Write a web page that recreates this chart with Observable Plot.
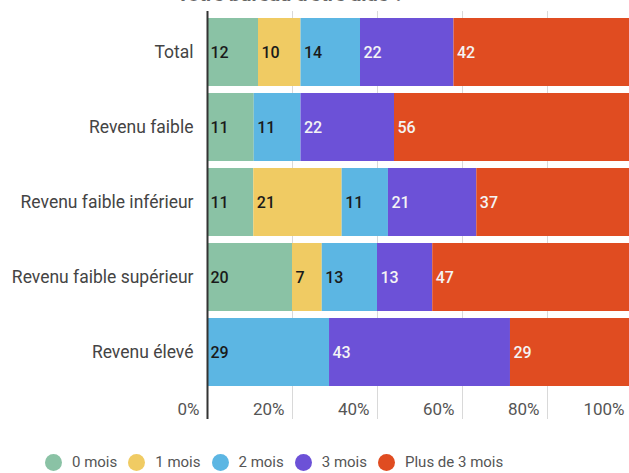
<!DOCTYPE html>
<html>
<head>
<meta charset="utf-8">
<script src="https://cdn.jsdelivr.net/npm/d3@7"></script>
<script src="https://cdn.jsdelivr.net/npm/@observablehq/plot@0.6"></script>
<style>
  html, body { margin: 0; padding: 0; background: #fff; overflow: hidden; }
  body { width: 629px; height: 473px; position: relative; font-family: Roboto, "Noto Sans", sans-serif; }
  #title { position: absolute; left: 178px; top: -18px; font-size: 20px; line-height: 24px; font-weight: bold; color: #666; white-space: nowrap; }
  #chart { position: absolute; left: 0; top: 0; width: 640px; }
  #chart svg { max-width: none !important; }
  #legend { position: absolute; left: 45px; top: 453px; display: flex; align-items: center; font-size: 15px; color: #555; white-space: nowrap; }
  .item { display: flex; align-items: center; margin-right: 11px; }
  .dot { width: 17px; height: 17px; border-radius: 50%; margin-right: 10px; }
</style>
</head>
<body>
<div id="title">votre bureau d'être aidé ?</div>
<div id="chart"></div>
<div id="legend"></div>
<script>
const categories = ["Total", "Revenu faible", "Revenu faible inférieur", "Revenu faible supérieur", "Revenu élevé"];
const series = ["0 mois", "1 mois", "2 mois", "3 mois", "Plus de 3 mois"];
const colors = ["#8AC2A5", "#F0CB63", "#5CB6E3", "#6C51D7", "#E04C21"];
const mois0 = [12, 11, 11, 20, 0];
const mois1 = [10, 0, 21, 7, 0];
const mois2 = [14, 11, 11, 13, 29];
const mois3 = [22, 22, 21, 13, 43];
const plus3 = [42, 56, 37, 47, 29];
const xTicks = [0, 0.2, 0.4, 0.6, 0.8, 1];

const seriesValues = [mois0, mois1, mois2, mois3, plus3];
const data = [];
categories.forEach((c, i) => {
  series.forEach((s, j) => {
    data.push({cat: c, series: s, value: seriesValues[j][i]});
  });
});
const darkLabel = new Set(["0 mois", "1 mois", "2 mois"]);

const stackOpts = {x: "value", y: "cat", z: "series", order: series, offset: "normalize"};

const chart = Plot.plot({
  width: 640,
  height: 440,
  marginTop: 11,
  marginBottom: 21,
  marginLeft: 207,
  marginRight: 8,
  style: {fontFamily: "Roboto, sans-serif", fontSize: "17px", color: "#444", background: "transparent", maxWidth: "none"},
  x: {domain: [0, 1], ticks: xTicks, tickFormat: d3.format(".0%"), label: null},
  y: {domain: categories, paddingInner: 0.1, paddingOuter: 0.259, align: 0.18, label: null},
  color: {domain: series, range: colors},
  marks: [
    Plot.gridX(xTicks, {stroke: "#d9d9d9", strokeOpacity: 1}),
    Plot.barX(data, Plot.stackX({...stackOpts, fill: "series"})),
    Plot.text(data, Plot.stackX1({...stackOpts,
      text: d => (d.value > 0 && darkLabel.has(d.series)) ? String(d.value) : "",
      textAnchor: "start", dx: 3, fill: "#1a1a1a", fontWeight: 500, fontSize: 16})),
    Plot.text(data, Plot.stackX1({...stackOpts,
      text: d => (d.value > 0 && !darkLabel.has(d.series)) ? String(d.value) : "",
      textAnchor: "start", dx: 3, fill: "#f4f4f4", fontWeight: 500, fontSize: 16})),
    Plot.ruleX([0], {stroke: "#333", strokeWidth: 2}),
    Plot.axisX(xTicks, {anchor: "bottom", tickSize: 0, tickPadding: 0, textAnchor: "end", dx: -8, dy: -17, fill: "#555", fontSize: 17, tickFormat: d3.format(".0%"), label: null}),
    Plot.axisY({anchor: "left", tickSize: 0, tickPadding: 14, fill: "#444", fontSize: 17.5, label: null})
  ]
});
document.getElementById("chart").appendChild(chart);

const legend = document.getElementById("legend");
series.forEach((s, i) => {
  const item = document.createElement("div");
  item.className = "item";
  const dot = document.createElement("span");
  dot.className = "dot";
  dot.style.background = colors[i];
  const lab = document.createElement("span");
  lab.textContent = s;
  item.appendChild(dot);
  item.appendChild(lab);
  legend.appendChild(item);
});
</script>
</body>
</html>
